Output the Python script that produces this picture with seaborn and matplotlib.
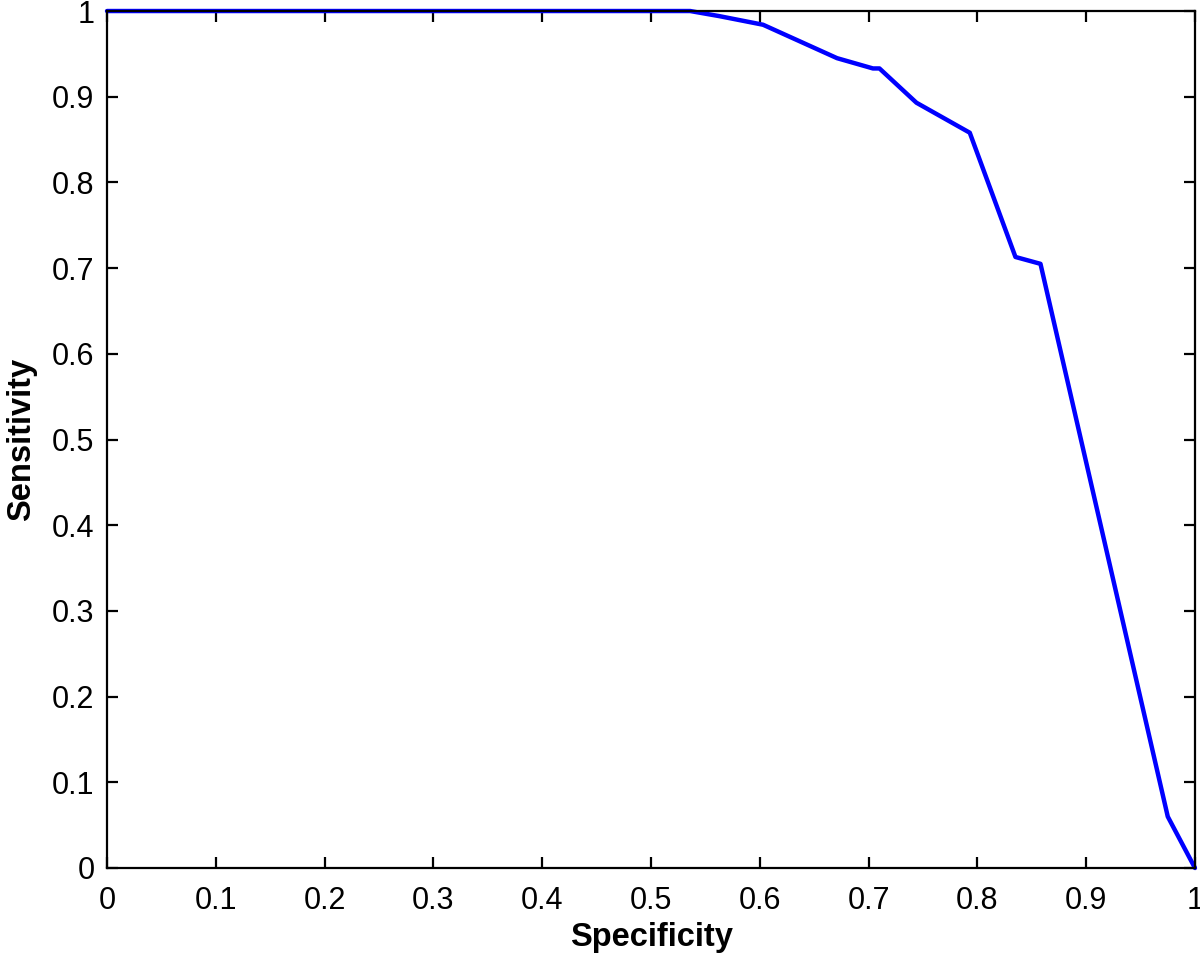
import matplotlib
matplotlib.use("Agg")
import matplotlib.pyplot as plt
import seaborn as sns
import pandas as pd

specificity = [0.0, 0.536, 0.563, 0.603, 0.671, 0.704, 0.710, 0.744, 0.793, 0.835, 0.858, 0.975, 1.0]
sensitivity = [1.0, 1.0, 0.994, 0.984, 0.945, 0.933, 0.933, 0.893, 0.858, 0.713, 0.705, 0.060, 0.0]
x_ticks = [0, 0.1, 0.2, 0.3, 0.4, 0.5, 0.6, 0.7, 0.8, 0.9, 1]
y_ticks = [0, 0.1, 0.2, 0.3, 0.4, 0.5, 0.6, 0.7, 0.8, 0.9, 1]
tick_labels = ["0", "0.1", "0.2", "0.3", "0.4", "0.5", "0.6", "0.7", "0.8", "0.9", "1"]

sns.set_style("ticks")
plt.rcParams['font.family'] = ['Liberation Sans', 'DejaVu Sans']
plt.rcParams['text.color'] = 'black'
plt.rcParams['axes.labelcolor'] = 'black'

fig = plt.figure(figsize=(12, 9.59), dpi=100)
ax = fig.add_axes([0.0892, 0.0949, 0.9066, 0.8936])

df = pd.DataFrame({"Specificity": specificity, "Sensitivity": sensitivity})
sns.lineplot(data=df, x="Specificity", y="Sensitivity", ax=ax, color=(0, 0, 1),
             linewidth=3.2, estimator=None, sort=False, clip_on=False)

ax.set_xlim(0, 1)
ax.set_ylim(0, 1)
ax.set_xticks(x_ticks)
ax.set_yticks(y_ticks)
ax.set_xticklabels(tick_labels)
ax.set_yticklabels(tick_labels)
for s in ax.spines.values():
    s.set_visible(True)
    s.set_linewidth(1.6)
    s.set_color("black")
ax.tick_params(direction="in", length=8, width=1.6, top=True, right=True,
               labelsize=22, colors="black")
ax.tick_params(axis="x", pad=13)
ax.tick_params(axis="y", pad=9)
ax.set_xlabel("Specificity", fontsize=23.5, fontweight="bold", labelpad=4)
ax.set_ylabel("Sensitivity", fontsize=23.5, fontweight="bold", labelpad=11)

fig.savefig("out.png", dpi=100, facecolor="white")
